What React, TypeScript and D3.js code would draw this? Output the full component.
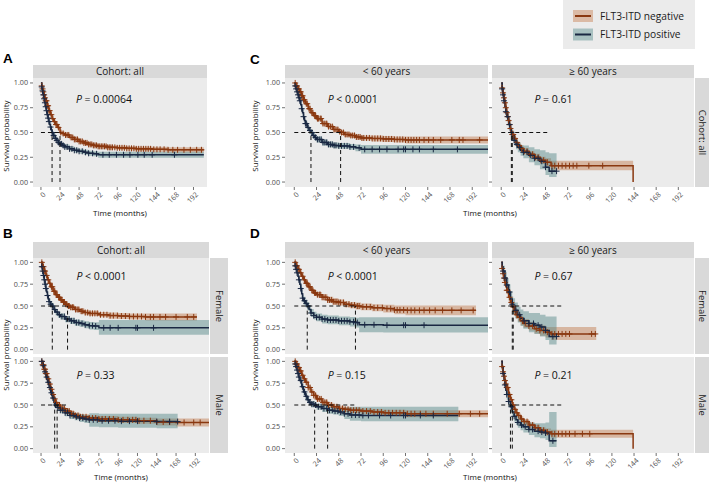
import React from 'react';
import * as d3 from 'd3';

type Pt = [number, number, number, number]; // time, survival, lower, upper

// ---------- Data (time in months, survival, CI lower, CI upper) ----------
const A_neg: Pt[] = [[0,1,1,1],[1,0.97,0.96,0.98],[2,0.94,0.92,0.96],[3,0.91,0.89,0.93],[4,0.88,0.86,0.9],[5,0.85,0.83,0.87],[6,0.82,0.8,0.84],[8,0.77,0.75,0.79],[10,0.72,0.7,0.74],[12,0.68,0.66,0.7],[14,0.64,0.62,0.66],[16,0.61,0.59,0.63],[18,0.58,0.56,0.6],[21,0.55,0.53,0.57],[24,0.5,0.48,0.52],[27,0.49,0.47,0.51],[30,0.475,0.455,0.495],[36,0.45,0.43,0.47],[42,0.43,0.41,0.45],[48,0.41,0.39,0.43],[54,0.395,0.375,0.415],[60,0.38,0.36,0.4],[66,0.37,0.35,0.39],[72,0.36,0.34,0.38],[84,0.35,0.33,0.37],[96,0.345,0.325,0.368],[108,0.34,0.318,0.362],[120,0.335,0.312,0.358],[140,0.33,0.305,0.355],[160,0.325,0.298,0.352],[205,0.325,0.298,0.352]];
const A_pos: Pt[] = [[0,1,1,1],[1,0.96,0.94,0.98],[2,0.92,0.9,0.94],[3,0.88,0.86,0.9],[4,0.84,0.815,0.865],[5,0.8,0.775,0.825],[6,0.76,0.735,0.785],[7,0.72,0.695,0.745],[8,0.68,0.655,0.705],[9,0.645,0.62,0.67],[10,0.61,0.585,0.635],[11,0.58,0.555,0.605],[12,0.555,0.53,0.58],[13,0.525,0.5,0.55],[14,0.5,0.475,0.525],[15,0.485,0.46,0.51],[16,0.47,0.445,0.495],[18,0.44,0.415,0.465],[20,0.42,0.395,0.445],[22,0.4,0.375,0.425],[24,0.385,0.36,0.41],[27,0.37,0.345,0.395],[30,0.355,0.33,0.38],[36,0.335,0.31,0.36],[42,0.32,0.295,0.345],[48,0.31,0.285,0.335],[54,0.3,0.275,0.325],[60,0.29,0.265,0.315],[66,0.285,0.26,0.31],[72,0.275,0.245,0.305],[205,0.275,0.245,0.305]];
const A_negCens = [1,2,3,4,5,6,7,8,9,10,11,13,15,17,19,20,22,25,28,31,33,35,38,40,42,44,46,48,50,52,54,56,58,60,62,64,66,68,70,72,74,76,78,80,82,84,86,88,90,93,96,99,102,105,108,111,114,117,120,123,126,129,132,135,138,142,146,150,155,160,166,172,180,188,196,202];
const A_posCens = [1,2,3,4,5,6,7,8,9,10,12,14,16,18,20,22,24,26,28,30,33,36,39,42,45,48,52,56,60,65,70,78,86,95,104,112,122,130,140,168];

const BF_neg: Pt[] = [[0,1,1,1],[2,0.95,0.93,0.97],[4,0.9,0.875,0.925],[6,0.85,0.82,0.88],[8,0.8,0.77,0.83],[10,0.76,0.73,0.79],[12,0.72,0.69,0.75],[15,0.67,0.64,0.7],[18,0.63,0.6,0.66],[21,0.6,0.57,0.63],[24,0.57,0.54,0.6],[27,0.545,0.515,0.575],[30,0.52,0.49,0.55],[33,0.5,0.47,0.53],[36,0.485,0.455,0.515],[42,0.46,0.43,0.49],[48,0.44,0.41,0.47],[54,0.425,0.395,0.455],[60,0.415,0.385,0.445],[72,0.4,0.37,0.43],[84,0.39,0.355,0.425],[96,0.385,0.35,0.42],[110,0.38,0.345,0.415],[130,0.375,0.335,0.415],[194,0.375,0.335,0.415]];
const BF_pos: Pt[] = [[0,1,1,1],[1,0.95,0.93,0.97],[2,0.9,0.87,0.93],[3,0.85,0.82,0.88],[4,0.8,0.765,0.835],[5,0.75,0.715,0.785],[6,0.7,0.665,0.735],[7,0.66,0.625,0.695],[8,0.62,0.585,0.655],[9,0.58,0.545,0.615],[10,0.55,0.515,0.585],[12,0.52,0.485,0.555],[14,0.5,0.465,0.535],[16,0.46,0.425,0.495],[18,0.43,0.395,0.465],[21,0.4,0.365,0.435],[24,0.38,0.345,0.415],[30,0.35,0.315,0.385],[36,0.33,0.295,0.365],[42,0.31,0.275,0.345],[48,0.3,0.262,0.338],[54,0.285,0.245,0.325],[60,0.275,0.232,0.318],[66,0.27,0.225,0.315],[72,0.25,0.17,0.34],[209,0.25,0.17,0.34]];
const BF_negCens = [1,2,3,4,5,7,9,11,13,14,16,17,19,20,22,23,25,26,28,29,31,32,34,35,37,39,40,43,45,47,50,52,55,58,61,64,67,70,74,78,82,86,90,95,100,105,110,115,120,125,130,136,140,148,155,168,182,190];
const BF_posCens = [1,2,3,4,5,6,8,10,12,14,17,20,23,26,29,32,35,38,41,44,47,51,55,60,64,68,78,86,96,118,120,140];

const BM_neg: Pt[] = [[0,1,1,1],[2,0.96,0.94,0.98],[4,0.91,0.885,0.935],[6,0.86,0.83,0.89],[8,0.8,0.77,0.83],[10,0.74,0.71,0.77],[12,0.68,0.65,0.71],[14,0.62,0.59,0.65],[16,0.57,0.54,0.6],[18,0.53,0.5,0.56],[20,0.5,0.47,0.53],[24,0.46,0.43,0.49],[30,0.43,0.4,0.46],[36,0.4,0.37,0.43],[42,0.38,0.35,0.41],[48,0.365,0.335,0.395],[60,0.35,0.32,0.38],[72,0.34,0.305,0.375],[96,0.33,0.295,0.365],[120,0.32,0.285,0.355],[144,0.305,0.265,0.345],[168,0.3,0.255,0.345],[209,0.3,0.255,0.345]];
const BM_pos: Pt[] = [[0,1,1,1],[2,0.95,0.93,0.97],[4,0.88,0.85,0.91],[6,0.82,0.79,0.85],[8,0.76,0.725,0.795],[10,0.7,0.665,0.735],[12,0.64,0.605,0.675],[14,0.58,0.545,0.615],[16,0.53,0.495,0.565],[17,0.5,0.465,0.535],[20,0.47,0.435,0.505],[24,0.44,0.405,0.475],[30,0.41,0.37,0.45],[36,0.38,0.34,0.42],[42,0.365,0.325,0.405],[48,0.35,0.305,0.395],[54,0.34,0.295,0.385],[60,0.33,0.25,0.405],[72,0.32,0.245,0.4],[96,0.315,0.24,0.4],[144,0.31,0.235,0.4],[170,0.31,0.235,0.4]];
const BM_negCens = [1,2,3,4,5,6,7,9,11,13,15,17,19,21,23,25,27,29,31,33,35,38,40,43,46,49,52,56,60,64,68,72,76,80,85,90,96,102,108,114,118,122,128,136,144,152,160,178,190,198];
const BM_posCens = [1,3,5,7,9,11,13,15,18,21,24,27,30,33,36,40,44,48,52,56,60,65,70,76,84,92,100,110,120,144,160,170];

const CL_neg: Pt[] = [[0,1,1,1],[2,0.97,0.96,0.98],[4,0.94,0.925,0.955],[6,0.91,0.89,0.93],[8,0.87,0.85,0.89],[10,0.83,0.81,0.85],[12,0.79,0.77,0.81],[15,0.74,0.715,0.765],[18,0.7,0.675,0.725],[21,0.67,0.645,0.695],[24,0.64,0.615,0.665],[30,0.59,0.565,0.615],[36,0.56,0.535,0.585],[42,0.53,0.505,0.555],[48,0.51,0.485,0.535],[50,0.5,0.475,0.525],[54,0.48,0.455,0.505],[60,0.47,0.445,0.495],[66,0.455,0.43,0.48],[72,0.445,0.42,0.47],[84,0.44,0.41,0.47],[96,0.435,0.405,0.465],[108,0.43,0.4,0.46],[120,0.425,0.39,0.46],[209,0.425,0.39,0.46]];
const CL_pos: Pt[] = [[0,1,1,1],[1,0.97,0.95,0.99],[2,0.94,0.92,0.96],[3,0.91,0.885,0.935],[4,0.88,0.855,0.905],[5,0.85,0.825,0.875],[6,0.82,0.795,0.845],[7,0.78,0.75,0.81],[8,0.74,0.71,0.77],[9,0.7,0.67,0.73],[10,0.66,0.63,0.69],[11,0.62,0.59,0.65],[12,0.59,0.56,0.62],[14,0.55,0.52,0.58],[16,0.52,0.49,0.55],[18,0.5,0.47,0.53],[20,0.47,0.44,0.5],[22,0.45,0.42,0.48],[24,0.43,0.4,0.46],[30,0.4,0.37,0.43],[36,0.38,0.35,0.41],[42,0.37,0.34,0.4],[48,0.365,0.335,0.395],[60,0.355,0.325,0.385],[66,0.345,0.31,0.38],[72,0.33,0.285,0.375],[209,0.33,0.285,0.375]];
const CL_negCens = [1,2,3,4,5,6,7,8,9,10,11,13,14,16,17,19,20,22,23,25,26,28,29,31,33,35,37,39,41,43,45,47,49,51,53,55,57,59,61,63,65,67,69,71,73,75,78,81,84,87,90,93,96,99,102,105,108,111,114,117,120,123,126,129,132,135,140,145,150,158,170,178,182,200];
const CL_posCens = [1,2,3,4,5,6,8,10,12,13,15,17,19,21,23,25,27,29,31,33,35,37,39,41,43,45,48,51,54,57,60,64,70,76,84,92,100,112,118,120,128,135,150,176];

const CR_neg: Pt[] = [[0,1,1,1],[1,0.95,0.93,0.97],[2,0.9,0.875,0.925],[3,0.85,0.82,0.88],[4,0.8,0.77,0.83],[5,0.75,0.72,0.78],[6,0.7,0.67,0.73],[7,0.66,0.63,0.69],[8,0.62,0.59,0.65],[9,0.58,0.55,0.61],[10,0.54,0.51,0.57],[11,0.51,0.48,0.54],[12,0.48,0.45,0.51],[14,0.44,0.41,0.47],[16,0.4,0.37,0.43],[18,0.37,0.34,0.4],[21,0.34,0.31,0.37],[24,0.31,0.28,0.34],[30,0.28,0.25,0.31],[36,0.25,0.215,0.285],[42,0.22,0.185,0.255],[48,0.2,0.16,0.24],[54,0.165,0.12,0.215],[143,0.165,0.12,0.215],[143,0,0,0]];
const CR_pos: Pt[] = [[0,1,1,1],[1,0.94,0.91,0.97],[2,0.88,0.84,0.92],[3,0.82,0.78,0.86],[4,0.76,0.715,0.805],[5,0.71,0.665,0.755],[6,0.66,0.615,0.705],[8,0.58,0.53,0.63],[10,0.52,0.47,0.57],[11,0.5,0.45,0.55],[12,0.47,0.42,0.52],[14,0.42,0.37,0.47],[16,0.38,0.33,0.43],[18,0.35,0.3,0.4],[21,0.32,0.265,0.375],[24,0.3,0.24,0.37],[30,0.27,0.2,0.35],[36,0.24,0.17,0.33],[42,0.21,0.13,0.32],[48,0.15,0.07,0.3],[52,0.11,0.05,0.29],[60,0.11,0.05,0.29]];
const CR_negCens = [1,2,3,4,5,6,7,8,9,10,12,13,15,17,19,22,25,28,31,34,37,40,43,46,50,55,58,62,66,70,74,78,82,95,110];
const CR_posCens = [1,2,3,5,7,9,11,14,17,20,24,28,32,36,40,44,48,55,60];

const DFL_neg: Pt[] = [[0,1,1,1],[2,0.96,0.94,0.98],[4,0.92,0.895,0.945],[6,0.88,0.855,0.905],[8,0.84,0.81,0.87],[10,0.8,0.77,0.83],[12,0.76,0.73,0.79],[15,0.72,0.69,0.75],[18,0.68,0.65,0.71],[21,0.65,0.62,0.68],[24,0.63,0.6,0.66],[30,0.6,0.565,0.635],[36,0.57,0.535,0.605],[42,0.55,0.515,0.585],[48,0.54,0.505,0.575],[54,0.52,0.485,0.555],[60,0.51,0.475,0.545],[66,0.5,0.46,0.54],[72,0.49,0.45,0.53],[84,0.48,0.44,0.52],[96,0.47,0.425,0.515],[108,0.455,0.405,0.505],[120,0.45,0.395,0.505],[196,0.45,0.395,0.505]];
const DFL_pos: Pt[] = [[0,1,1,1],[1,0.96,0.93,0.99],[2,0.92,0.885,0.955],[3,0.88,0.84,0.92],[4,0.84,0.8,0.88],[5,0.8,0.755,0.845],[6,0.75,0.705,0.795],[7,0.7,0.655,0.745],[8,0.64,0.595,0.685],[9,0.59,0.545,0.635],[10,0.56,0.515,0.605],[12,0.53,0.485,0.575],[14,0.5,0.455,0.545],[16,0.46,0.415,0.505],[18,0.42,0.375,0.465],[21,0.39,0.345,0.435],[24,0.37,0.325,0.415],[30,0.35,0.3,0.4],[36,0.34,0.29,0.39],[48,0.33,0.28,0.38],[60,0.32,0.265,0.375],[66,0.31,0.255,0.365],[70,0.285,0.2,0.37],[96,0.28,0.195,0.37],[209,0.28,0.195,0.37]];
const DFL_negCens = [1,2,3,4,5,7,9,11,13,14,16,17,19,20,22,23,25,27,28,30,32,34,36,38,40,42,44,46,48,50,53,56,59,62,65,68,70,74,78,82,86,90,95,100,104,108,111,114,118,122,126,130,135,140,146,152,160,170,180,193];
const DFL_posCens = [1,2,3,5,7,9,11,13,15,18,21,24,27,30,33,36,39,42,45,48,51,54,57,60,64,66,68,76,86,100,118,120,140];

const DFR_neg: Pt[] = [[0,1,1,1],[1,0.93,0.9,0.96],[2,0.87,0.83,0.91],[3,0.82,0.78,0.86],[4,0.77,0.725,0.815],[5,0.72,0.675,0.765],[6,0.68,0.635,0.725],[8,0.6,0.55,0.65],[10,0.54,0.49,0.59],[12,0.49,0.44,0.54],[14,0.44,0.39,0.49],[16,0.4,0.35,0.45],[18,0.37,0.32,0.42],[21,0.33,0.28,0.38],[24,0.3,0.25,0.35],[30,0.27,0.22,0.32],[36,0.24,0.185,0.295],[42,0.22,0.16,0.28],[48,0.2,0.14,0.26],[54,0.18,0.11,0.26],[103,0.18,0.11,0.26]];
const DFR_pos: Pt[] = [[0,1,1,1],[1,0.95,0.9,1],[2,0.9,0.84,0.96],[4,0.82,0.75,0.89],[6,0.74,0.66,0.82],[8,0.66,0.57,0.75],[10,0.58,0.49,0.67],[12,0.52,0.43,0.61],[13,0.5,0.41,0.59],[15,0.45,0.36,0.54],[18,0.4,0.31,0.49],[21,0.36,0.27,0.46],[24,0.33,0.24,0.44],[30,0.3,0.2,0.42],[36,0.28,0.18,0.42],[42,0.26,0.15,0.4],[48,0.22,0.11,0.38],[52,0.15,0.06,0.38],[60,0.15,0.06,0.38]];
const DFR_negCens = [1,2,3,4,6,7,9,11,13,15,17,20,23,26,30,34,38,42,46,50,55,58,62,66,70,74,98,102];
const DFR_posCens = [2,4,6,9,12,16,20,25,30,35,40,44,48,56,60];

const DML_neg: Pt[] = [[0,1,1,1],[2,0.97,0.955,0.985],[4,0.93,0.91,0.95],[6,0.89,0.865,0.915],[8,0.84,0.815,0.865],[10,0.8,0.775,0.825],[12,0.76,0.73,0.79],[15,0.7,0.67,0.73],[18,0.65,0.62,0.68],[21,0.61,0.58,0.64],[24,0.57,0.54,0.6],[30,0.53,0.5,0.56],[36,0.5,0.47,0.53],[42,0.48,0.45,0.51],[48,0.46,0.43,0.49],[54,0.45,0.42,0.48],[60,0.44,0.41,0.47],[72,0.43,0.4,0.46],[84,0.42,0.39,0.45],[96,0.41,0.375,0.445],[120,0.4,0.36,0.44],[209,0.4,0.36,0.44]];
const DML_pos: Pt[] = [[0,1,1,1],[1,0.97,0.95,0.99],[2,0.94,0.915,0.965],[3,0.9,0.87,0.93],[4,0.86,0.83,0.89],[5,0.82,0.79,0.85],[6,0.78,0.745,0.815],[8,0.71,0.675,0.745],[10,0.65,0.615,0.685],[12,0.6,0.565,0.635],[14,0.56,0.525,0.595],[16,0.53,0.495,0.565],[18,0.51,0.475,0.545],[22,0.5,0.465,0.535],[24,0.48,0.445,0.515],[30,0.46,0.42,0.5],[36,0.44,0.4,0.48],[42,0.43,0.39,0.47],[48,0.42,0.375,0.465],[54,0.4,0.34,0.47],[60,0.385,0.32,0.48],[72,0.38,0.315,0.48],[96,0.38,0.315,0.48],[177,0.38,0.315,0.48]];
const DML_negCens = [1,2,3,4,5,6,7,9,11,13,15,17,19,21,23,25,27,29,31,33,35,37,40,43,46,49,52,55,58,61,64,67,70,74,78,82,86,90,94,98,102,106,110,114,118,122,126,130,136,142,150,165,178,190,200];
const DML_posCens = [1,2,3,4,5,7,9,11,13,15,17,19,21,23,26,29,32,35,38,41,44,47,50,54,58,62,66,70,74,80,92,104,118,120,136,150];

const DMR_neg: Pt[] = [[0,1,1,1],[1,0.94,0.92,0.96],[2,0.88,0.855,0.905],[3,0.83,0.8,0.86],[4,0.78,0.75,0.81],[5,0.74,0.71,0.77],[6,0.7,0.67,0.73],[8,0.62,0.59,0.65],[10,0.56,0.53,0.59],[12,0.5,0.47,0.53],[14,0.45,0.42,0.48],[16,0.41,0.38,0.44],[18,0.38,0.35,0.41],[21,0.34,0.31,0.37],[24,0.31,0.28,0.34],[30,0.27,0.24,0.3],[36,0.24,0.205,0.275],[42,0.21,0.175,0.245],[48,0.19,0.15,0.23],[54,0.17,0.125,0.215],[143,0.17,0.125,0.215],[143,0,0,0]];
const DMR_pos: Pt[] = [[0,1,1,1],[1,0.93,0.89,0.97],[2,0.86,0.81,0.91],[3,0.79,0.74,0.84],[4,0.73,0.675,0.785],[5,0.67,0.615,0.725],[6,0.62,0.56,0.68],[8,0.54,0.48,0.6],[10,0.48,0.42,0.54],[12,0.42,0.36,0.48],[14,0.37,0.31,0.43],[16,0.33,0.27,0.39],[18,0.3,0.24,0.36],[21,0.27,0.21,0.335],[24,0.25,0.185,0.32],[30,0.22,0.155,0.3],[36,0.2,0.13,0.29],[42,0.19,0.12,0.29],[48,0.18,0.1,0.3],[52,0.09,0.02,0.42],[60,0.09,0.02,0.42]];
const DMR_negCens = [1,2,3,4,5,6,7,8,9,11,13,15,17,19,22,25,28,31,34,37,40,43,46,50,55,58,62,66,70,74,80,88,96];
const DMR_posCens = [2,4,6,8,11,14,18,22,26,30,34,40,44,48,56];

const X_TICKS = [0, 24, 48, 72, 96, 120, 144, 168, 192];
const Y_TICKS = [0, 0.25, 0.5, 0.75, 1];
const X_DOMAIN: [number, number] = [-10, 209];
const GROUP_LABELS = ['FLT3-ITD negative', 'FLT3-ITD positive'];
const P_VALUES = { A: '= 0.00064', BF: '< 0.0001', BM: '= 0.33', CL: '< 0.0001', CR: '= 0.61', DFL: '< 0.0001', DFR: '= 0.67', DML: '= 0.15', DMR: '= 0.21' };
const AGE_LABELS = ['< 60 years', '\u2265 60 years'];
const SEX_LABELS = ['Female', 'Male'];
const COHORT_LABEL = 'Cohort: all';

// ---------- Style ----------
const FONT = "'Open Sans', 'Noto Sans', sans-serif";
const NEG = '#8a3810';
const POS = '#1a2843';
const NEG_FILL = '#b86633';
const POS_FILL = '#4d8283';
const NEG_OP = 0.4;
const POS_OP = 0.45;
const PANEL_BG = '#ebebeb';
const STRIP_BG = '#d9d9d9';

interface Curve { pts: Pt[]; cens: number[] }
interface Spec {
  id: string; grp: string;
  x0: number; x1: number; y0: number; y1: number;
  neg: Curve; pos: Curve; p: string; pX: number;
  xLabels: boolean; yLabels: boolean;
}

const median = (pts: Pt[]) => { const f = pts.find(p => p[1] <= 0.5); return f ? f[0] : null; };
const survAt = (pts: Pt[], t: number) => { let v = pts[0][1]; for (const p of pts) { if (p[0] <= t) v = p[1]; else break; } return v; };

const SPECS: Spec[] = [
  { id: 'A', grp: 'A', x0: 33, x1: 207, y0: 78, y1: 187, neg: { pts: A_neg, cens: A_negCens }, pos: { pts: A_pos, cens: A_posCens }, p: P_VALUES.A, pX: 44, xLabels: true, yLabels: true },
  { id: 'BF', grp: 'B', x0: 33, x1: 209, y0: 258, y1: 354, neg: { pts: BF_neg, cens: BF_negCens }, pos: { pts: BF_pos, cens: BF_posCens }, p: P_VALUES.BF, pX: 44, xLabels: false, yLabels: true },
  { id: 'BM', grp: 'B', x0: 33, x1: 209, y0: 357, y1: 453, neg: { pts: BM_neg, cens: BM_negCens }, pos: { pts: BM_pos, cens: BM_posCens }, p: P_VALUES.BM, pX: 44, xLabels: true, yLabels: true },
  { id: 'CL', grp: 'C', x0: 285, x1: 488, y0: 78, y1: 187, neg: { pts: CL_neg, cens: CL_negCens }, pos: { pts: CL_pos, cens: CL_posCens }, p: P_VALUES.CL, pX: 36, xLabels: true, yLabels: true },
  { id: 'CR', grp: 'C', x0: 492, x1: 694, y0: 78, y1: 187, neg: { pts: CR_neg, cens: CR_negCens }, pos: { pts: CR_pos, cens: CR_posCens }, p: P_VALUES.CR, pX: 36, xLabels: true, yLabels: false },
  { id: 'DFL', grp: 'D', x0: 285, x1: 488, y0: 258, y1: 354, neg: { pts: DFL_neg, cens: DFL_negCens }, pos: { pts: DFL_pos, cens: DFL_posCens }, p: P_VALUES.DFL, pX: 36, xLabels: false, yLabels: true },
  { id: 'DFR', grp: 'D', x0: 492, x1: 694, y0: 258, y1: 354, neg: { pts: DFR_neg, cens: DFR_negCens }, pos: { pts: DFR_pos, cens: DFR_posCens }, p: P_VALUES.DFR, pX: 36, xLabels: false, yLabels: false },
  { id: 'DML', grp: 'D', x0: 285, x1: 488, y0: 357, y1: 453, neg: { pts: DML_neg, cens: DML_negCens }, pos: { pts: DML_pos, cens: DML_posCens }, p: P_VALUES.DML, pX: 36, xLabels: true, yLabels: true },
  { id: 'DMR', grp: 'D', x0: 492, x1: 694, y0: 357, y1: 453, neg: { pts: DMR_neg, cens: DMR_negCens }, pos: { pts: DMR_pos, cens: DMR_posCens }, p: P_VALUES.DMR, pX: 36, xLabels: true, yLabels: false },
];

const groupMaxMedian: Record<string, number> = {};
SPECS.forEach(s => {
  const m = Math.max(median(s.neg.pts) ?? 0, median(s.pos.pts) ?? 0);
  groupMaxMedian[s.grp] = Math.max(groupMaxMedian[s.grp] ?? 0, m);
});

function Panel({ s }: { s: Spec }) {
  const x = d3.scaleLinear().domain(X_DOMAIN).range([s.x0, s.x1]);
  const y = d3.scaleLinear().domain([-0.05, 1.05]).range([s.y1, s.y0]);
  const area = d3.area<Pt>().x(d => x(d[0])).y0(d => y(d[2])).y1(d => y(d[3])).curve(d3.curveStepAfter);
  const line = d3.line<Pt>().x(d => x(d[0])).y(d => y(d[1])).curve(d3.curveStepAfter);
  const clipId = 'clip-' + s.id;
  const cross = (c: Curve) => c.cens.map(t => {
    const cx = x(t), cy = y(survAt(c.pts, t));
    return `M${cx - 3},${cy}h6M${cx},${cy - 3}v6`;
  }).join('');
  const meds = [median(s.neg.pts), median(s.pos.pts)].filter(v => v !== null) as number[];
  const hMax = groupMaxMedian[s.grp];
  const tc = '#333333';
  return (
    <g>
      <defs>
        <clipPath id={clipId}><rect x={s.x0} y={s.y0} width={s.x1 - s.x0} height={s.y1 - s.y0} /></clipPath>
      </defs>
      <rect x={s.x0} y={s.y0} width={s.x1 - s.x0} height={s.y1 - s.y0} fill={PANEL_BG} />
      <g clipPath={`url(#${clipId})`}>
        <path d={area(s.neg.pts) || ''} fill={NEG_FILL} fillOpacity={NEG_OP} />
        <path d={area(s.pos.pts) || ''} fill={POS_FILL} fillOpacity={POS_OP} />
        <path d={line(s.neg.pts) || ''} fill="none" stroke={NEG} strokeWidth={1.5} />
        <path d={line(s.pos.pts) || ''} fill="none" stroke={POS} strokeWidth={1.5} />
        <path d={cross(s.neg)} fill="none" stroke={NEG} strokeWidth={1} />
        <path d={cross(s.pos)} fill="none" stroke={POS} strokeWidth={1} />
        {meds.map((m, i) => (
          <line key={i} x1={x(m)} x2={x(m)} y1={y(0)} y2={y(0.5)} stroke="#111" strokeWidth={1} strokeDasharray="4,3" />
        ))}
        <line x1={x(0)} x2={x(hMax)} y1={y(0.5)} y2={y(0.5)} stroke="#111" strokeWidth={1} strokeDasharray="4,3" />
      </g>
      <text x={x(s.pX)} y={y(0.8)} fontSize={10.5} fill="#111">
        <tspan fontStyle="italic">P</tspan>{' ' + s.p}
      </text>
      {Y_TICKS.map(t => (
        <g key={'y' + t}>
          <line x1={s.x0 - 3} x2={s.x0} y1={y(t)} y2={y(t)} stroke={tc} strokeWidth={0.7} />
          {s.yLabels && (
            <text x={s.x0 - 5} y={y(t)} dy="0.35em" textAnchor="end" fontSize={7.2} fill="#4d4d4d">{t.toFixed(2)}</text>
          )}
        </g>
      ))}
      {s.xLabels && X_TICKS.map(t => (
        <g key={'x' + t}>
          <line x1={x(t)} x2={x(t)} y1={s.y1} y2={s.y1 + 3} stroke={tc} strokeWidth={0.7} />
          <text transform={`translate(${x(t) + 1.5},${s.y1 + 4.5}) rotate(-45)`} dy="0.71em" textAnchor="end" fontSize={7.2} fill="#4d4d4d">{t}</text>
        </g>
      ))}
    </g>
  );
}

function TopStrip({ x0, x1, y0, y1, label }: { x0: number; x1: number; y0: number; y1: number; label: string }) {
  return (
    <g>
      <rect x={x0} y={y0} width={x1 - x0} height={y1 - y0} fill={STRIP_BG} />
      <text x={(x0 + x1) / 2} y={(y0 + y1) / 2} dy="0.36em" textAnchor="middle" fontSize={10} fill="#1a1a1a">{label}</text>
    </g>
  );
}

function RightStrip({ x0, x1, y0, y1, label }: { x0: number; x1: number; y0: number; y1: number; label: string }) {
  const cx = (x0 + x1) / 2, cy = (y0 + y1) / 2;
  return (
    <g>
      <rect x={x0} y={y0} width={x1 - x0} height={y1 - y0} fill={STRIP_BG} />
      <text transform={`translate(${cx},${cy}) rotate(90)`} dy="0.34em" textAnchor="middle" fontSize={9.5} fill="#1a1a1a">{label}</text>
    </g>
  );
}

export default function App() {
  const letter = (l: string, xx: number, yy: number) => (
    <text x={xx} y={yy} fontSize={13.5} fontWeight="bold" fontFamily="'Liberation Sans', Arial, sans-serif" fill="#000">{l}</text>
  );
  const yTitle = (xx: number, yy: number) => (
    <text transform={`translate(${xx},${yy}) rotate(-90)`} textAnchor="middle" fontSize={8} fill="#111">Survival probability</text>
  );
  const xTitle = (xx: number, yy: number) => (
    <text x={xx} y={yy} textAnchor="middle" fontSize={8} fill="#111">Time (months)</text>
  );
  return (
    <svg width={709} height={485} style={{ position: 'absolute', left: 0, top: 0, background: '#fff' }} fontFamily={FONT}>
      <rect x={0} y={0} width={709} height={485} fill="#fff" />
      {/* Legend */}
      <g>
        <rect x={563} y={0} width={132} height={49} fill="#ebebeb" />
        {GROUP_LABELS.map((g, i) => {
          const ky = 10 + i * 18.5;
          const col = i === 0 ? NEG : POS;
          const fill = i === 0 ? NEG_FILL : POS_FILL;
          return (
            <g key={g}>
              <rect x={573} y={ky} width={20} height={12} fill="#f2f2f2" />
              <rect x={573} y={ky} width={20} height={12} fill={fill} fillOpacity={i === 0 ? NEG_OP : POS_OP} />
              <line x1={575} x2={591} y1={ky + 6} y2={ky + 6} stroke={col} strokeWidth={2} />
              <text x={600} y={ky + 6} dy="0.36em" fontSize={10.2} fill="#1a1a1a">{g}</text>
            </g>
          );
        })}
      </g>

      {letter('A', 3, 63)}
      {letter('B', 3, 238)}
      {letter('C', 250, 64)}
      {letter('D', 250, 238)}

      {/* Strips */}
      <TopStrip x0={33} x1={207} y0={65} y1={78} label={COHORT_LABEL} />
      <TopStrip x0={33} x1={209} y0={242} y1={258} label={COHORT_LABEL} />
      <RightStrip x0={210} x1={228} y0={258} y1={354} label={SEX_LABELS[0]} />
      <RightStrip x0={210} x1={228} y0={357} y1={453} label={SEX_LABELS[1]} />
      <TopStrip x0={285} x1={488} y0={65} y1={78} label={AGE_LABELS[0]} />
      <TopStrip x0={492} x1={694} y0={65} y1={78} label={AGE_LABELS[1]} />
      <RightStrip x0={695} x1={709} y0={78} y1={187} label={COHORT_LABEL} />
      <TopStrip x0={285} x1={488} y0={242} y1={258} label={AGE_LABELS[0]} />
      <TopStrip x0={492} x1={694} y0={242} y1={258} label={AGE_LABELS[1]} />
      <RightStrip x0={695} x1={709} y0={258} y1={354} label={SEX_LABELS[0]} />
      <RightStrip x0={695} x1={709} y0={357} y1={453} label={SEX_LABELS[1]} />

      {SPECS.map(s => <Panel key={s.id} s={s} />)}

      {yTitle(9, 136)}
      {yTitle(258, 136)}
      {yTitle(9, 355)}
      {yTitle(258, 355)}
      {xTitle(120, 216)}
      {xTitle(490, 216)}
      {xTitle(121, 480)}
      {xTitle(490, 480)}
    </svg>
  );
}
